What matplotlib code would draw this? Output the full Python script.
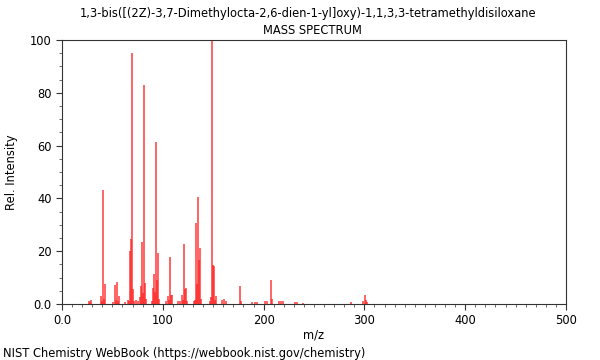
import matplotlib
matplotlib.use("Agg")
import matplotlib.pyplot as plt
from matplotlib.ticker import MultipleLocator

# peaks (m/z, relative intensity)
mz = [27, 28, 29, 39, 40, 41, 42, 43, 51, 53, 54, 55, 56, 57, 63, 65, 66, 67, 68,
      69, 70, 71, 73, 75, 77, 78, 79, 80, 81, 82, 83, 89, 90, 91, 92, 93, 94, 95,
      96, 103, 105, 106, 107, 108, 109, 115, 117, 119, 120, 121, 122, 123, 124,
      131, 132, 133, 134, 135, 136, 137, 138, 147, 148, 149, 150, 151, 152, 153,
      159, 161, 163, 177, 178, 189, 191, 193, 201, 203, 207, 208, 215, 217, 219,
      231, 233, 239, 287, 299, 301, 302, 303]
intensity = [1.2, 0.8, 1.5, 3.0, 1.0, 43.1, 2.0, 7.5, 0.8, 7.2, 1.5, 8.2, 1.0, 3.0,
             0.6, 1.5, 1.0, 20.0, 24.5, 95.2, 5.6, 1.2, 1.5, 1.2, 2.5, 7.0, 23.5,
             4.0, 83.0, 8.0, 2.0, 1.0, 6.0, 11.5, 4.5, 61.4, 9.0, 19.4, 2.0, 1.0,
             3.0, 1.5, 17.8, 3.5, 3.5, 1.0, 1.2, 3.5, 1.5, 22.6, 5.5, 6.0, 1.0, 1.0,
             1.5, 30.8, 7.6, 40.4, 16.7, 21.3, 2.0, 1.0, 2.5, 100.0, 14.7, 14.3,
             1.5, 3.0, 1.5, 2.0, 1.0, 6.8, 1.0, 0.6, 0.6, 0.8, 1.0, 1.0, 9.1, 2.0,
             1.3, 1.3, 1.0, 0.8, 0.6, 0.5, 0.8, 1.0, 3.4, 1.5, 0.8]

xticks = [0, 100, 200, 300, 400, 500]
xtick_labels = ["0.0", "100", "200", "300", "400", "500"]
yticks = [0, 20, 40, 60, 80, 100]
ytick_labels = ["0.0", "20", "40", "60", "80", "100"]

fig = plt.figure(figsize=(6, 3.6), dpi=100)
ax = fig.add_axes([0.1033, 0.1556, 0.84, 0.7333])

ax.vlines(mz, 0, intensity, color="#ff2020", alpha=0.75, linewidth=1.3)

ax.set_xlim(0, 500)
ax.set_ylim(0, 100)
ax.set_xticks(xticks)
ax.set_xticklabels(xtick_labels)
ax.set_yticks(yticks)
ax.set_yticklabels(ytick_labels)
ax.xaxis.set_minor_locator(MultipleLocator(10))
ax.yaxis.set_minor_locator(MultipleLocator(5))
ax.tick_params(labelsize=8.3, length=4, width=0.8, color="#333333")
ax.tick_params(which="minor", length=2, width=0.6, color="#555555")
for s in ax.spines.values():
    s.set_color("#333333")
    s.set_linewidth(0.8)

ax.set_xlabel("m/z", fontsize=8.3, labelpad=1)
ax.set_ylabel("Rel. Intensity", fontsize=8.3, labelpad=0)
ax.yaxis.set_label_coords(-0.088, 0.5)
fig.text(0.514, 0.963, "1,3-bis([(2Z)-3,7-Dimethylocta-2,6-dien-1-yl]oxy)-1,1,3,3-tetramethyldisiloxane",
         ha="center", va="center", fontsize=8.3)
fig.text(0.52, 0.916, "MASS SPECTRUM", ha="center", va="center", fontsize=8.3)
fig.text(0.005, 0.0, "NIST Chemistry WebBook (https://webbook.nist.gov/chemistry)",
         ha="left", va="bottom", fontsize=8.3)

fig.savefig("out.png", dpi=100)
